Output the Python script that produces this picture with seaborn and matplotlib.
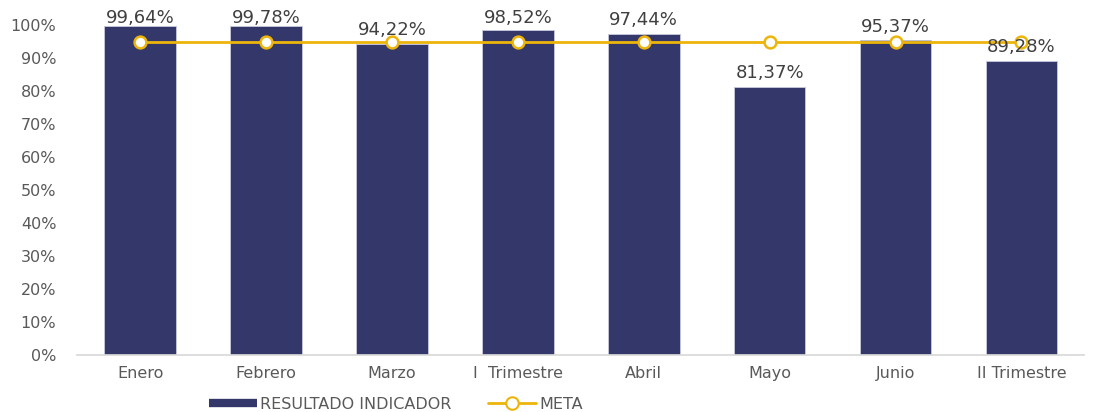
import matplotlib
matplotlib.use('Agg')
import matplotlib.pyplot as plt
import seaborn as sns
from matplotlib.lines import Line2D

# Data
meses = ['Enero', 'Febrero', 'Marzo', 'I  Trimestre', 'Abril', 'Mayo', 'Junio', 'II Trimestre']
resultado = [99.64, 99.78, 94.22, 98.52, 97.44, 81.37, 95.37, 89.28]
meta = [95, 95, 95, 95, 95, 95, 95, 95]

bar_color = '#343769'
meta_color = '#EDB50C'
text_gray = '#595959'

sns.set_theme(style='white')
plt.rcParams['font.family'] = ['DejaVu Sans']

fig = plt.figure(figsize=(11.02, 4.12), dpi=100)
ax = fig.add_axes([0.070, 0.138, 0.914, 0.801])

sns.barplot(x=meses, y=resultado, color=bar_color, width=0.57, ax=ax,
            saturation=1, edgecolor='#c8c9dc', linewidth=0.6)
sns.lineplot(x=meses, y=meta, color=meta_color, linewidth=2, marker='o',
             markersize=8.5, markerfacecolor='white', markeredgecolor=meta_color,
             markeredgewidth=1.8, ax=ax, sort=False)

# Data labels (kept inside the chart area like Excel does)
for i, v in enumerate(resultado):
    ax.annotate(f'{v:.2f}%'.replace('.', ','), (i, min(v, 98.0)), xytext=(0, 3.5),
                textcoords='offset points', ha='center', va='bottom',
                fontsize=13, color='#404040')

ax.set_ylim(0, 100)
ax.set_xlim(-0.5, len(meses) - 0.5)
ax.set_yticks(range(0, 101, 10))
ax.set_yticklabels([f'{t}%' for t in range(0, 101, 10)], fontsize=11.5, color=text_gray)
ax.tick_params(axis='x', labelsize=11.5, labelcolor=text_gray, pad=8, length=0)
ax.tick_params(axis='y', length=0, pad=15)
for s in ['top', 'right', 'left']:
    ax.spines[s].set_visible(False)
ax.spines['bottom'].set_color('#d9d9d9')
ax.set_xlabel('')
ax.set_ylabel('')
ax.grid(False)

handles = [
    Line2D([0], [0], color=bar_color, linewidth=6, solid_capstyle='butt'),
    Line2D([0], [0], color=meta_color, linewidth=2, marker='o', markersize=9,
           markerfacecolor='white', markeredgecolor=meta_color, markeredgewidth=1.5),
]
fig.legend(handles, ['RESULTADO INDICADOR', 'META'], loc='center',
           bbox_to_anchor=(0.359, 0.018), ncol=2, frameon=False,
           fontsize=11.5, labelcolor=text_gray, handlelength=3.0,
           columnspacing=2.3, handletextpad=0.2)

fig.savefig('out.png', dpi=100)
